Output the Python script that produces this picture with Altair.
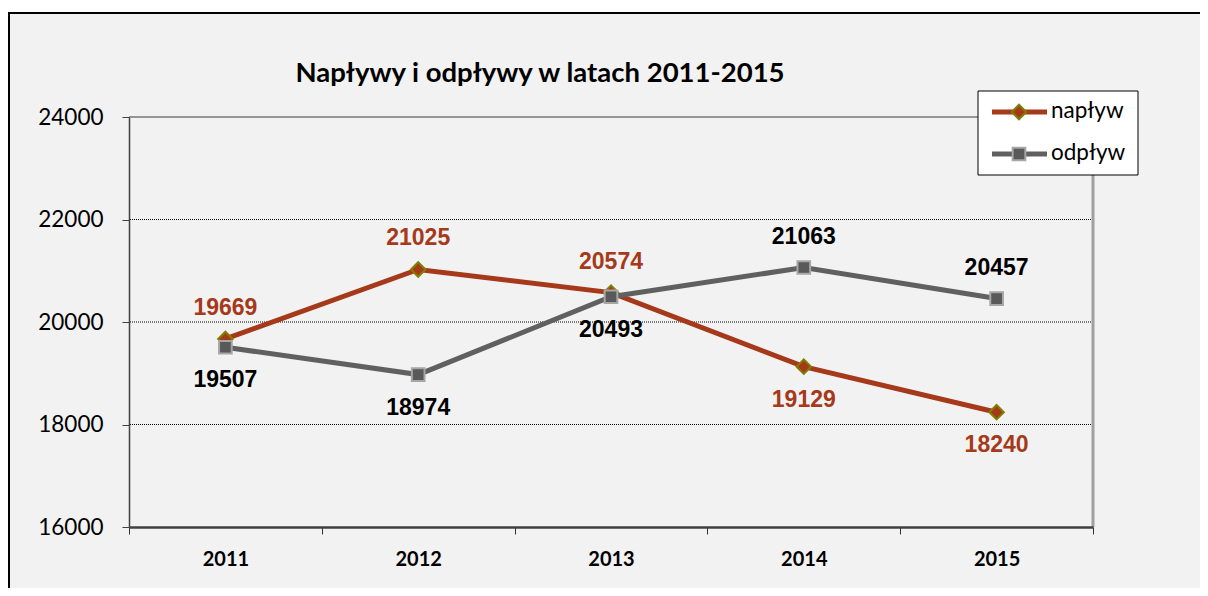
import altair as alt
import pandas as pd

TITLE = "Napływy i odpływy w latach 2011-2015"
YEARS = ["2011", "2012", "2013", "2014", "2015"]
SERIES = ["napływ", "odpływ"]
NAPLYW = [19669, 21025, 20574, 19129, 18240]
ODPLYW = [19507, 18974, 20493, 21063, 20457]
Y_DOMAIN = [16000, 24000]
Y_TICKS = [16000, 18000, 20000, 22000, 24000]
GRID_VALUES = [18000, 20000, 22000]

LINE_COLORS = ["#A5391A", "#606060"]
MARKER_FILLS = ["#A5391A", "#595959"]
MARKER_STROKES = ["#7F8000", "#A6A6A6"]
LABEL_COLORS = ["#A5391A", "#000000"]
SHAPES = ["diamond", "square"]
SIZES = [210, 160]

rows = [{"year": y, "series": SERIES[0], "value": v} for y, v in zip(YEARS, NAPLYW)] + \
       [{"year": y, "series": SERIES[1], "value": v} for y, v in zip(YEARS, ODPLYW)]
df = pd.DataFrame(rows)
grid_df = pd.DataFrame({"value": GRID_VALUES})
top_df = pd.DataFrame({"value": [Y_DOMAIN[1]]})
one = pd.DataFrame({"k": [0]})
legend_df = pd.DataFrame({"series": SERIES, "idx": [0, 1]})

W, H = 964, 410
PAD = {"left": 121, "top": 109, "right": 107, "bottom": 61}
FONT = "Lato"
LABEL_FONT = "Liberation Sans"

x_scale = alt.Scale(type="band", domain=YEARS, paddingInner=0, paddingOuter=0)
y_scale = alt.Scale(domain=Y_DOMAIN, nice=False, zero=False)

x_axis = alt.Axis(title=None, tickBand="extent", labelAngle=0, labelFont=FONT,
                  labelFontSize=20, labelFontWeight="bold", labelColor="#000000",
                  labelPadding=15, tickSize=7, tickColor="#303030", tickWidth=1,
                  domainColor="#404040", domainWidth=2.5, grid=False, zindex=1)
y_axis = alt.Axis(title=None, values=Y_TICKS, format="d", labelFont=FONT,
                  labelFontSize=22.5, labelColor="#000000", labelPadding=19,
                  tickSize=7, tickColor="#404040", tickWidth=1,
                  domainColor="#404040", domainWidth=1.5, grid=False, zindex=1)

X = alt.X("year:N", scale=x_scale, axis=x_axis, bandPosition=0.5)
Y = alt.Y("value:Q", scale=y_scale, axis=y_axis)

line_stroke = alt.Scale(domain=SERIES, range=LINE_COLORS)
marker_fill = alt.Scale(domain=SERIES, range=MARKER_FILLS)
marker_stroke = alt.Scale(domain=SERIES, range=MARKER_STROKES)
label_color = alt.Scale(domain=SERIES, range=LABEL_COLORS)
shape_scale = alt.Scale(domain=SERIES, range=SHAPES)
size_scale = alt.Scale(domain=SERIES, range=SIZES)

# chart-area background and its black frame (left and top edges visible)
RIGHT_EDGE = W + PAD["right"]
BOTTOM_EDGE = H + PAD["bottom"]
frame = alt.Chart(one).mark_rect(fill="#f2f2f2", strokeWidth=0).encode(
    x=alt.value(-120), x2=alt.value(RIGHT_EDGE), y=alt.value(-104), y2=alt.value(BOTTOM_EDGE))
frame_left = alt.Chart(one).mark_rule(color="#000000", strokeWidth=2).encode(
    x=alt.value(-120), y=alt.value(-105), y2=alt.value(BOTTOM_EDGE))
frame_top = alt.Chart(one).mark_rule(color="#000000", strokeWidth=2).encode(
    x=alt.value(-121), x2=alt.value(RIGHT_EDGE), y=alt.value(-104))

grid = alt.Chart(grid_df).mark_rule(color="#000000", strokeWidth=1, strokeDash=[1, 1]).encode(y=Y)

top_border = alt.Chart(top_df).mark_rule(color="#969696", strokeWidth=2).encode(y=Y)

right_border = alt.Chart(one).mark_rule(color="#A0A0A0", strokeWidth=3).encode(
    x=alt.value(W), y=alt.value(0), y2=alt.value(H))

lines = alt.Chart(df).mark_line(strokeWidth=5).encode(
    x=X, y=Y,
    stroke=alt.Stroke("series:N", scale=line_stroke, legend=None),
    detail="series:N")

points = alt.Chart(df).mark_point(filled=True, strokeWidth=2, opacity=1).encode(
    x=X, y=Y,
    shape=alt.Shape("series:N", scale=shape_scale, legend=None),
    size=alt.Size("series:N", scale=size_scale, legend=None),
    fill=alt.Fill("series:N", scale=marker_fill, legend=None),
    stroke=alt.Stroke("series:N", scale=marker_stroke, legend=None))

label_base = alt.Chart(df).transform_joinaggregate(
    maxv="max(value)", groupby=["year"])

labels_above = label_base.transform_filter("datum.value >= datum.maxv").mark_text(
    font=LABEL_FONT, fontSize=23, fontWeight="bold", baseline="alphabetic", dy=-24).encode(
    x=X, y=Y, text=alt.Text("value:Q", format="d"),
    color=alt.Color("series:N", scale=label_color, legend=None))

labels_below = label_base.transform_filter("datum.value < datum.maxv").mark_text(
    font=LABEL_FONT, fontSize=23, fontWeight="bold", baseline="alphabetic", dy=40).encode(
    x=X, y=Y, text=alt.Text("value:Q", format="d"),
    color=alt.Color("series:N", scale=label_color, legend=None))

# legend (drawn as marks)
LEG_X0, LEG_X1, LEG_Y0, LEG_Y1 = 849, 1009, -26, 58
legend_box = alt.Chart(one).mark_rect(fill="#ffffff", stroke="#000000", strokeWidth=1).encode(
    x=alt.value(LEG_X0), x2=alt.value(LEG_X1), y=alt.value(LEG_Y0), y2=alt.value(LEG_Y1))

leg = alt.Chart(legend_df).transform_calculate(ly="-5 + datum.idx * 42")
LY = alt.Y("ly:Q", scale=None)

legend_lines = leg.mark_rule(strokeWidth=5).encode(
    x=alt.value(863), x2=alt.value(918), y=LY,
    stroke=alt.Stroke("series:N", scale=line_stroke, legend=None))

legend_points = leg.mark_point(filled=True, strokeWidth=2, opacity=1).encode(
    x=alt.value(890), y=LY,
    shape=alt.Shape("series:N", scale=shape_scale, legend=None),
    size=alt.Size("series:N", scale=size_scale, legend=None),
    fill=alt.Fill("series:N", scale=marker_fill, legend=None),
    stroke=alt.Stroke("series:N", scale=marker_stroke, legend=None))

legend_text = leg.mark_text(font=FONT, fontSize=22.5, align="left", baseline="middle",
                            color="#000000", dy=-1).encode(
    x=alt.value(922), y=LY, text="series:N")

title = alt.Chart(one).mark_text(font=FONT, fontSize=27.5, fontWeight="bold",
                                 align="center", baseline="alphabetic",
                                 color="#000000").encode(
    x=alt.value(411), y=alt.value(-35), text=alt.value(TITLE))

chart = alt.layer(
    frame, frame_left, frame_top, grid, top_border, right_border, lines, points,
    labels_above, labels_below,
    legend_box, legend_lines, legend_points, legend_text, title
).resolve_scale(
    color="independent", fill="independent", stroke="independent",
    shape="independent", size="independent"
).properties(
    width=W, height=H,
    padding=PAD,
    autosize=alt.AutoSizeParams(type="none"),
    background="#ffffff"
).configure_view(strokeWidth=0)

chart.save("out.html", embed_options={"renderer": "svg", "actions": False})
